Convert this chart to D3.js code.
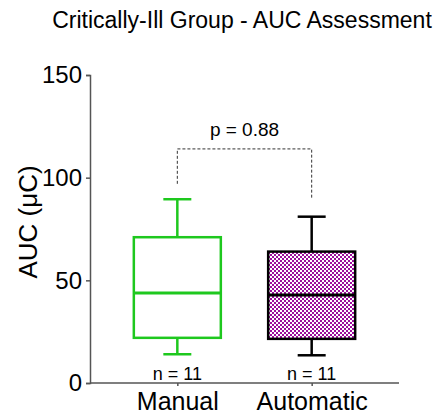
<!DOCTYPE html>
<html>
<head>
<meta charset="utf-8">
<script src="https://cdn.jsdelivr.net/npm/d3@7"></script>
<style>
  body { margin: 0; background: #fff; }
  text { font-family: Arial, "Liberation Sans", sans-serif; fill: #000; }
</style>
</head>
<body>
<svg id="chart"></svg>
<script>
const WIDTH = 444;
const HEIGHT = 417;

// data
const groups = ["Manual", "Automatic"];
const whiskerLow = [14, 13.5];
const q1 = [22, 21.5];
const median = [44, 43];
const q3 = [71, 64];
const whiskerHigh = [89.5, 81];
const counts = [11, 11];
const yTicks = [0, 50, 100, 150];
const pLabel = "p = 0.88";

const margin = {top: 75, left: 90, bottom: 34, right: 45};

let svg = d3.select("#chart")
            .attr("width", WIDTH)
            .attr("height", HEIGHT);

let defs = svg.append("defs");
let pat = defs.append("pattern")
              .attr("id", "checker")
              .attr("width", 4)
              .attr("height", 4)
              .attr("patternUnits", "userSpaceOnUse");
pat.append("rect").attr("width", 4).attr("height", 4).attr("fill", "#fff");
pat.append("rect").attr("width", 2).attr("height", 2).attr("fill", "#9b0f9b");
pat.append("rect").attr("x", 2).attr("y", 2).attr("width", 2).attr("height", 2).attr("fill", "#9b0f9b");

let x = d3.scalePoint()
          .domain(groups)
          .range([margin.left, WIDTH - margin.right])
          .padding(0.65);

let y = d3.scaleLinear()
          .domain([0, 150])
          .range([HEIGHT - margin.bottom, margin.top]);

// title
svg.append("text")
   .attr("x", 242)
   .attr("y", 28)
   .attr("text-anchor", "middle")
   .style("font-size", "23px")
   .text("Critically-Ill Group - AUC Assessment");

// y axis
let yAxis = svg.append("g")
               .attr("transform", `translate(${margin.left},0)`)
               .call(d3.axisLeft(y).tickValues(yTicks).tickSize(4).tickPadding(4));
yAxis.select(".domain").attr("stroke", "#555").attr("stroke-width", 1.5);
yAxis.selectAll(".tick line").attr("stroke", "#555").attr("stroke-width", 1.5);
yAxis.selectAll(".tick text")
     .style("font-size", "24px")
     .style("font-family", "Arial, 'Liberation Sans', sans-serif")
     .attr("fill", "#000");

svg.append("text")
   .attr("transform", `translate(37,${(y(0) + y(150)) / 2 - 7}) rotate(-90)`)
   .attr("text-anchor", "middle")
   .style("font-size", "26px")
   .text("AUC (\u03BCC)");

// x axis
let xAxis = svg.append("g")
               .attr("transform", `translate(0,${y(0)})`)
               .call(d3.axisBottom(x).tickSize(3).tickSizeOuter(0).tickPadding(6));
xAxis.select(".domain")
     .attr("d", `M${margin.left},0H${WIDTH - margin.right}`)
     .attr("stroke", "#555").attr("stroke-width", 1.5);
xAxis.selectAll(".tick line").attr("stroke", "#555").attr("stroke-width", 1.5);
xAxis.selectAll(".tick text")
     .style("font-size", "25px")
     .style("font-family", "Arial, 'Liberation Sans', sans-serif")
     .attr("fill", "#000");

// boxes
const BOX_W = 87;
const CAP_W = 28;
const colors = ["#1ec81e", "#000"];
const fills = ["#fff", "url(#checker)"];

groups.forEach((g, i) => {
  let cx = x(g);
  let grp = svg.append("g")
               .attr("stroke", colors[i])
               .attr("stroke-width", 2.5)
               .attr("fill", "none");

  grp.append("line").attr("x1", cx).attr("x2", cx).attr("y1", y(whiskerHigh[i])).attr("y2", y(q3[i]));
  grp.append("line").attr("x1", cx).attr("x2", cx).attr("y1", y(q1[i])).attr("y2", y(whiskerLow[i]));
  grp.append("line").attr("x1", cx - CAP_W / 2).attr("x2", cx + CAP_W / 2).attr("y1", y(whiskerHigh[i])).attr("y2", y(whiskerHigh[i]));
  grp.append("line").attr("x1", cx - CAP_W / 2).attr("x2", cx + CAP_W / 2).attr("y1", y(whiskerLow[i])).attr("y2", y(whiskerLow[i]));
  grp.append("rect")
     .attr("x", cx - BOX_W / 2)
     .attr("y", y(q3[i]))
     .attr("width", BOX_W)
     .attr("height", y(q1[i]) - y(q3[i]))
     .attr("fill", fills[i]);
  grp.append("line")
     .attr("x1", cx - BOX_W / 2).attr("x2", cx + BOX_W / 2)
     .attr("y1", Math.round(y(median[i]))).attr("y2", Math.round(y(median[i])))
     .attr("stroke-width", 3);

  svg.append("text")
     .attr("x", cx)
     .attr("y", y(0) - 3)
     .attr("text-anchor", "middle")
     .style("font-size", "18px")
     .text(`n = ${counts[i]}`);
});

// significance bracket
let bracketY = y(114);
let x0 = x(groups[0]), x1 = x(groups[1]);
svg.append("path")
   .attr("d", `M${x0},${y(97)}V${bracketY}H${x1}V${y(90)}`)
   .attr("fill", "none")
   .attr("stroke", "#333")
   .attr("stroke-width", 1)
   .attr("stroke-dasharray", "3,2");

svg.append("text")
   .attr("x", (x0 + x1) / 2)
   .attr("y", bracketY - 13)
   .attr("text-anchor", "middle")
   .style("font-size", "19px")
   .text(pLabel);
</script>
</body>
</html>
